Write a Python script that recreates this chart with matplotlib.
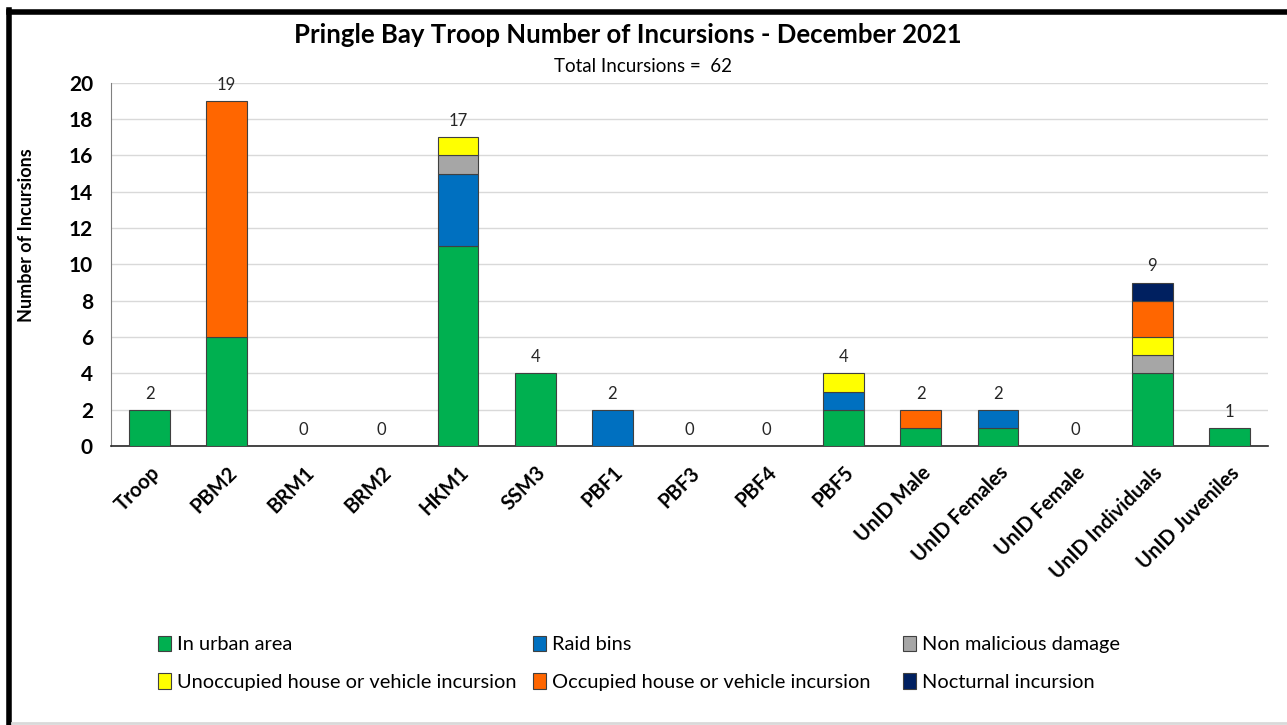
import matplotlib.pyplot as plt
from matplotlib.lines import Line2D
import numpy as np

plt.rcParams['font.family'] = ['Lato', 'DejaVu Sans']

troops = ["Troop", "PBM2", "BRM1", "BRM2", "HKM1", "SSM3", "PBF1", "PBF3", "PBF4",
          "PBF5", "UnID Male", "UnID Females", "UnID Female", "UnID Individuals",
          "UnID Juveniles"]

# counts per category (stack order bottom -> top)
urban      = [2, 6, 0, 0, 11, 4, 0, 0, 0, 2, 1, 1, 0, 4, 1]
raid_bins  = [0, 0, 0, 0, 4, 0, 2, 0, 0, 1, 0, 1, 0, 0, 0]
non_mal    = [0, 0, 0, 0, 1, 0, 0, 0, 0, 0, 0, 0, 0, 1, 0]
unoccupied = [0, 0, 0, 0, 1, 0, 0, 0, 0, 1, 0, 0, 0, 1, 0]
occupied   = [0, 13, 0, 0, 0, 0, 0, 0, 0, 0, 1, 0, 0, 2, 0]
nocturnal  = [0, 0, 0, 0, 0, 0, 0, 0, 0, 0, 0, 0, 0, 1, 0]

series = [
    ("In urban area", urban, "#00B050"),
    ("Raid bins", raid_bins, "#0070C0"),
    ("Non malicious damage", non_mal, "#A6A6A6"),
    ("Unoccupied house or vehicle incursion", unoccupied, "#FFFF00"),
    ("Occupied house or vehicle incursion", occupied, "#FF6600"),
    ("Nocturnal incursion", nocturnal, "#002060"),
]

fig = plt.figure(figsize=(12.87, 7.25), dpi=100)
ax = fig.add_axes([0.0862, 0.3848, 0.899, 0.501])

x = np.arange(len(troops))
bottom = np.zeros(len(troops))
handles = []
for name, vals, col in series:
    vals = np.array(vals, dtype=float)
    mask = vals > 0
    ax.bar(x[mask], vals[mask], 0.53, bottom=bottom[mask], color=col,
           edgecolor="#404040", linewidth=0.8, zorder=3)
    bottom += vals
    handles.append(plt.Rectangle((0, 0), 1, 1, facecolor=col, edgecolor="#404040", linewidth=0.8))

totals = bottom
for xi, t in zip(x, totals):
    ax.text(xi, t + 0.45, str(int(t)), ha="center", va="bottom", fontsize=12, color="#262626")

ax.set_xlim(-0.5, len(troops) - 0.5)
ax.set_ylim(0, 20)
ax.set_yticks(range(0, 21, 2))
ax.yaxis.grid(True, color="#D9D9D9", linewidth=1, zorder=0)
ax.set_axisbelow(True)
ax.tick_params(axis="both", length=0)
ax.set_xticks(x)
ax.set_xticklabels(troops, rotation=45, ha="right", rotation_mode="anchor",
                   fontsize=14.5, fontweight="bold")
for lab in ax.get_yticklabels():
    lab.set_fontsize(15)
    lab.set_fontweight("bold")
ax.tick_params(axis="y", pad=13)
ax.tick_params(axis="x", pad=12)
for s in ["top", "right"]:
    ax.spines[s].set_visible(False)
ax.spines["left"].set_color("#808080")
ax.spines["bottom"].set_color("#262626")
ax.spines["bottom"].set_linewidth(1.2)

ax.set_ylabel("Number of Incursions", fontsize=13, fontweight="bold")
ax.yaxis.set_label_coords(-0.066, 0.58)

fig.text(0.488, 0.952, "Pringle Bay Troop Number of Incursions - December 2021",
         ha="center", va="center", fontsize=18.5, fontweight="bold")
fig.text(0.5, 0.908, "Total Incursions =  62", ha="center", va="center", fontsize=13.5)

# legend: three single-column legends placed where each column starts
col_x = [0.1225, 0.4142, 0.7014]
for c in range(3):
    idx = [c, c + 3]
    leg = fig.legend([handles[i] for i in idx], [series[i][0] for i in idx],
                     ncol=1, loc="center left", bbox_to_anchor=(col_x[c], 0.085),
                     frameon=False, fontsize=14.4, handlelength=0.65, handleheight=0.8,
                     handletextpad=0.3, labelspacing=1.0, borderpad=0, borderaxespad=0)

# outer frame: top and left black, bottom grey
fig.add_artist(Line2D([0.007, 1.0], [0.984, 0.984], color="black", linewidth=4,
                      transform=fig.transFigure))
fig.add_artist(Line2D([0.0073, 0.0073], [0.0, 0.986], color="black", linewidth=4,
                      transform=fig.transFigure))
fig.add_artist(Line2D([0.009, 1.0], [0.003, 0.003], color="#D9D9D9", linewidth=2,
                      transform=fig.transFigure))

fig.savefig("out.png", dpi=100)
